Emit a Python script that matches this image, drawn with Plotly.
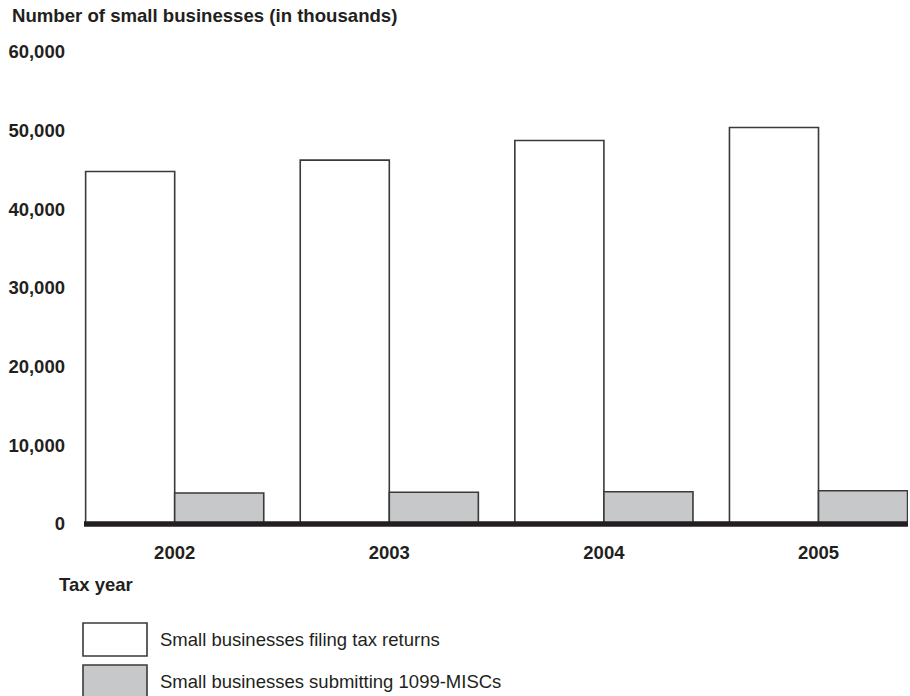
import plotly.graph_objects as go

years = ["2002", "2003", "2004", "2005"]
filing_returns = [44800, 46250, 48750, 50400]
submitting_1099 = [3950, 4030, 4100, 4230]
y_ticks = [0, 10000, 20000, 30000, 40000, 50000, 60000]
y_tick_labels = ["0", "10,000", "20,000", "30,000", "40,000", "50,000", "60,000"]
series_names = ["Small businesses filing tax returns", "Small businesses submitting 1099-MISCs"]

TXT = "#231f20"
FONT = "Liberation Sans, Arial, Helvetica, sans-serif"
GRAY = "#c7c8ca"

fig = go.Figure()
fig.add_trace(go.Bar(x=years, y=filing_returns, name=series_names[0],
                     marker=dict(color="white", line=dict(color="#3a3a3a", width=1.6))))
fig.add_trace(go.Bar(x=years, y=submitting_1099, name=series_names[1],
                     marker=dict(color=GRAY, line=dict(color="#3a3a3a", width=1.6))))

fig.update_layout(
    width=910, height=696,
    margin=dict(l=84, r=2, t=52, b=172),
    paper_bgcolor="white", plot_bgcolor="white",
    barmode="group", bargap=0.17, bargroupgap=0,
    showlegend=False,
    font=dict(family=FONT, color=TXT),
    xaxis=dict(type="category", range=[-0.4226, 3.417], showgrid=False, zeroline=False,
               showline=False, ticks="", ticklabelstandoff=15,
               tickfont=dict(size=18.5, family=FONT, color=TXT, weight="bold")),
    yaxis=dict(range=[0, 60000], tickvals=y_ticks, ticktext=y_tick_labels,
               showgrid=False, zeroline=False, showline=False, ticks="",
               ticklabelstandoff=18,
               tickfont=dict(size=18.5, family=FONT, color=TXT, weight="bold")),
)

# thick baseline (paper-referenced so it is not clipped at the plot edge)
fig.add_shape(type="line", xref="paper", yref="paper", x0=0, x1=1, y0=0, y1=0,
              line=dict(color=TXT, width=5.5), layer="above")

# title and axis label
fig.add_annotation(text="<b>Number of small businesses (in thousands)</b>", xref="paper", yref="paper",
                   x=(10-84)/824, y=1 + (52-16)/472, xanchor="left", yanchor="middle", showarrow=False,
                   font=dict(size=18.6, family=FONT, color=TXT))
fig.add_annotation(text="<b>Tax year</b>", xref="paper", yref="paper",
                   x=(57-84)/824, y=-(584-524)/472, xanchor="left", yanchor="middle", showarrow=False,
                   font=dict(size=18.5, family=FONT, color=TXT))

# legend drawn manually
legend_fills = ["white", GRAY]
legend_y = [(623, 656), (665, 698)]
for name, fill, (ya, yb) in zip(series_names, legend_fills, legend_y):
    fig.add_shape(type="rect", xref="paper", yref="paper",
                  x0=(83-84)/824, x1=(147-84)/824,
                  y0=-(yb-524)/472, y1=-(ya-524)/472,
                  fillcolor=fill, line=dict(color="#3a3a3a", width=1.6))
    fig.add_annotation(text=name, xref="paper", yref="paper",
                       x=(158-84)/824, y=-((ya+yb)/2-524)/472,
                       xanchor="left", yanchor="middle", showarrow=False,
                       font=dict(size=18.5, family=FONT, color=TXT))

fig.write_html("out.html", config={"displayModeBar": False},
               post_script="document.body.style.margin='0';document.body.style.overflow='hidden';")
